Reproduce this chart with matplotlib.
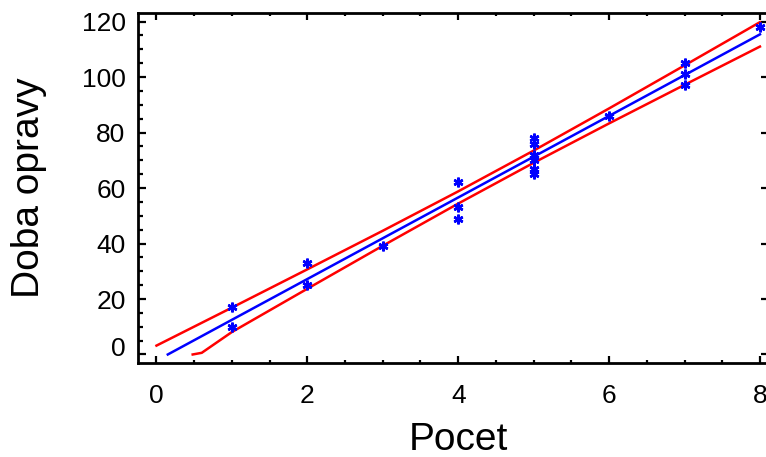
import matplotlib.pyplot as plt
from matplotlib.transforms import ScaledTranslation

plt.rcParams['font.family'] = ['Liberation Sans', 'DejaVu Sans']

# namerene body (Pocet, Doba opravy)
pocet = [1, 1, 2, 2, 3, 4, 4, 4, 5, 5, 5, 5, 5, 5, 6, 7, 7, 7, 8]
doba = [17, 10, 33, 25, 39, 62, 53, 49, 78, 76, 72, 70, 67, 65, 86, 105, 101, 97, 118]

# regresni primka
fit_x = [0.15, 1, 2, 3, 4, 5, 6, 7, 8]
fit_y = [0.0, 12.5, 27.2, 41.9, 56.6, 71.3, 86.0, 100.7, 115.4]

# pas spolehlivosti - horni a dolni mez
upper_x = [0, 1, 2, 3, 4, 5, 6, 7, 8]
upper_y = [3.2, 16.9, 30.7, 44.6, 58.8, 73.5, 88.7, 104.2, 119.8]
lower_x = [0.48, 0.6, 1, 2, 3, 4, 5, 6, 7, 8]
lower_y = [0.0, 0.6, 8.1, 23.7, 39.2, 54.4, 69.1, 83.3, 97.2, 111.0]

xticks = [0, 2, 4, 6, 8]
yticks = [0, 20, 40, 60, 80, 100, 120]

fig = plt.figure(figsize=(7.66, 4.57), dpi=100)
ax = fig.add_axes([138 / 766, 1 - 363 / 457, 631 / 766, 350 / 457])

ax.plot(upper_x, upper_y, color='#ff0000', lw=1.8, zorder=2)
ax.plot(lower_x, lower_y, color='#ff0000', lw=1.8, zorder=2)
ax.plot(fit_x, fit_y, color='#0000ff', lw=1.8, zorder=3)
ax.plot(pocet, doba, linestyle='none', marker=(6, 2, 0), markersize=7,
        markeredgewidth=1.8, color='#0000ff', zorder=4)

ax.set_xlim(-0.245, 8.12)
ax.set_ylim(-3.07, 123.1)
ax.set_xticks(xticks)
ax.set_yticks(yticks)
ax.set_xticks([v / 2 for v in range(0, 17)], minor=True)
ax.set_yticks(list(range(0, 125, 5)), minor=True)

for s in ax.spines.values():
    s.set_linewidth(2)
ax.tick_params(axis='both', which='both', direction='in', width=1.6,
               labelsize=19)
ax.tick_params(axis='x', which='major', length=5, pad=15, top=True)
ax.tick_params(axis='x', which='minor', length=2.5, top=True)
ax.tick_params(axis='y', which='major', length=6, pad=9, right=True)
ax.tick_params(axis='y', which='minor', length=3.5, left=True, right=False)

fig.text(29 / 766, 1 - 188 / 457, 'Doba opravy', rotation=90, fontsize=28,
         ha='center', va='center')
fig.text(458 / 766, 1 - 450 / 457, 'Pocet', fontsize=28,
         ha='center', va='baseline')

# popisek 0 na ose y je v originale posunuty nahoru
t0 = ax.yaxis.get_major_ticks()[0].label1
t0.set_transform(t0.get_transform() + ScaledTranslation(0, 8 / 100, fig.dpi_scale_trans))

fig.savefig('out.png', dpi=100)
